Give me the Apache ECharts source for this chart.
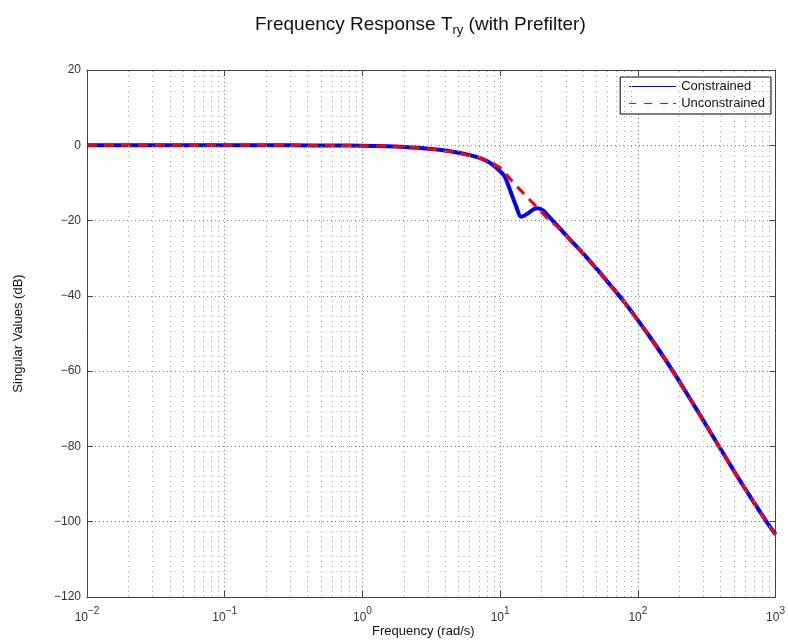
<!DOCTYPE html>
<html>
<head>
<meta charset="utf-8">
<script src="https://cdn.jsdelivr.net/npm/echarts@6/dist/echarts.min.js"></script>
<style>
  html, body { margin: 0; padding: 0; background: #fff; }
  #chart { width: 788px; height: 644px; }
</style>
</head>
<body>
<div id="chart"></div>
<script>
  // frequency points (rad/s) and singular values (dB)
  var freq = [0.01, 0.1, 0.3, 0.6, 1, 1.5, 2, 3, 4, 5, 6, 7, 8, 9, 10, 10.8, 12, 13.1, 14.2, 15.9, 17.5, 18.8, 20.5, 22.2,
    26.2, 32.7, 40.9, 51, 63.7, 79.6, 99.4, 124, 155, 193, 242, 293, 387, 556, 867, 1000]
  var constrainedDb = [0, 0, -0.01, -0.05, -0.12, -0.25, -0.45, -0.9, -1.4, -2.0, -2.6, -3.3, -4.2, -5.4, -6.9, -8.3, -12.6,
    -16.3, -19.0, -18.1, -17.0, -16.7, -17.3, -18.6, -21.5, -25.3, -29.1, -33.1, -37.3, -41.6, -46.3, -51.2, -56.4, -61.8,
    -67.6, -72.6, -79.9, -89.3, -100.2, -103.4]
  var unconstrainedDb = [0, 0, -0.01, -0.05, -0.12, -0.25, -0.45, -0.95, -1.5, -2.1, -2.75, -3.35, -4.0, -4.9, -6.0, -7.3,
    -9.2, -10.8, -12.1, -14.0, -15.5, -16.7, -18.2, -19.5, -21.7, -25.3, -29.1, -33.1, -37.3, -41.6, -46.3, -51.2, -56.4,
    -61.8, -67.6, -72.6, -79.9, -89.3, -100.2, -103.4]
  var decades = [-2, -1, 0, 1, 2, 3]
  var minorSteps = [2, 3, 4, 5, 6, 7, 8, 9]
  var yTicks = {min: -120, max: 20, step: 20}

  var font = 'Liberation Sans, Arial, Helvetica, sans-serif'

  // legend keys: thin solid bar and a dashed bar (47 x 1.2)
  var solidKey = 'path://M0,0H47V1.2H0Z'
  var dashedKey = 'path://M0,0H7V1.2H0Z M15,0H23V1.2H15Z M31,0H39V1.2H31Z M47,0H47V1.2H47Z M44,0H47V1.2H44Z'

  function toPairs(ys) {
    return freq.map(function (f, i) {
      return [f, ys[i]]
    })
  }

  // dotted minor grid lines at 2..9 x 10^n
  var minorLines = []
  decades.slice(0, -1).forEach(function (e) {
    minorSteps.forEach(function (k) {
      minorLines.push({xAxis: +(k * Math.pow(10, e)).toPrecision(3)})
    })
  })

  function minusSign(s) {
    return String(s).replace('-', '\u2212')
  }

  var axisColor = '#444'
  var chart = echarts.init(document.getElementById('chart'))

  var option = {
    animation: false,
    backgroundColor: '#fff',
    textStyle: {fontFamily: font},
    grid: {left: 87, right: 10, top: 70, bottom: 47, containLabel: false},
    graphic: [
      {
        // title
        type: 'text',
        left: 255,
        top: 12,
        style: {
          text: '{m|Frequency Response T}{s|ry}{m| (with Prefilter)}',
          fill: '#111',
          rich: {
            m: {fontSize: 19, fontFamily: font, fill: '#111', verticalAlign: 'top', lineHeight: 22},
            s: {fontSize: 13, fontFamily: font, fill: '#111', verticalAlign: 'bottom', lineHeight: 22, padding: [12, 0, 0, 0]}
          }
        }
      },
      {
        // x axis label
        type: 'text',
        left: 372,
        top: 625,
        style: {text: 'Frequency (rad/s)', fontSize: 13, fontFamily: font, fill: '#111'}
      }
    ],
    legend: {
      right: 17,
      top: 77,
      orient: 'vertical',
      align: 'left',
      backgroundColor: '#fff',
      borderColor: '#000',
      borderWidth: 1,
      borderRadius: 0,
      padding: [3, 6, 4, 9],
      itemGap: 4,
      itemWidth: 47,
      itemHeight: 14,
      symbolKeepAspect: true,
      textStyle: {fontSize: 13, color: '#111', fontFamily: font},
      data: [
        {name: 'Constrained', icon: solidKey, itemStyle: {color: '#0000ff'}},
        {name: 'Unconstrained', icon: dashedKey, itemStyle: {color: '#ff0000'}}
      ]
    },
    xAxis: [
      {
        type: 'log',
        logBase: 10,
        min: 0.01,
        max: 1000,
        axisLine: {onZero: false, lineStyle: {color: axisColor, width: 1}},
        axisTick: {inside: true, length: 6, lineStyle: {color: axisColor}},
        axisLabel: {
          margin: 9,
          color: '#333',
          formatter: function (v) {
            var e = Math.round(Math.log10(v))
            return '{b|10}{s|' + minusSign(e) + '}'
          },
          rich: {
            b: {fontSize: 12, color: '#333', fontFamily: font, verticalAlign: 'bottom', lineHeight: 18},
            s: {fontSize: 10, color: '#333', fontFamily: font, verticalAlign: 'top', lineHeight: 18}
          }
        },
        splitLine: {show: true, lineStyle: {color: '#888', type: [1, 3], width: 1}}
      },
      {
        type: 'log',
        logBase: 10,
        min: 0.01,
        max: 1000,
        position: 'top',
        axisLine: {onZero: false, lineStyle: {color: axisColor, width: 1}},
        axisTick: {inside: true, length: 6, lineStyle: {color: axisColor}},
        axisLabel: {show: false},
        splitLine: {show: false}
      }
    ],
    yAxis: [
      {
        type: 'value',
        min: yTicks.min,
        max: yTicks.max,
        interval: yTicks.step,
        name: 'Singular Values (dB)',
        nameLocation: 'middle',
        nameGap: 62,
        nameTextStyle: {fontSize: 13, color: '#111', fontFamily: font},
        axisLine: {show: true, onZero: false, lineStyle: {color: axisColor, width: 1}},
        axisTick: {show: true, inside: true, length: 6, lineStyle: {color: axisColor}},
        axisLabel: {
          fontSize: 12,
          color: '#333',
          margin: 6,
          formatter: function (v) {
            return minusSign(v)
          }
        },
        splitLine: {show: true, lineStyle: {color: '#888', type: [1, 3], width: 1}}
      },
      {
        type: 'value',
        min: yTicks.min,
        max: yTicks.max,
        interval: yTicks.step,
        position: 'right',
        axisLine: {show: true, onZero: false, lineStyle: {color: axisColor, width: 1}},
        axisTick: {show: true, inside: true, length: 6, lineStyle: {color: axisColor}},
        axisLabel: {show: false},
        splitLine: {show: false}
      }
    ],
    series: [
      {
        // helper series, only carries the minor grid
        name: 'grid',
        type: 'line',
        data: [],
        z: 1,
        silent: true,
        markLine: {
          silent: true,
          symbol: 'none',
          label: {show: false},
          lineStyle: {color: '#aaa', type: [1, 4], width: 1},
          animation: false,
          data: minorLines
        }
      },
      {
        name: 'Constrained',
        type: 'line',
        data: toPairs(constrainedDb),
        showSymbol: false,
        symbol: 'none',
        smooth: 0.3,
        z: 3,
        lineStyle: {color: '#0000ff', width: 4},
        itemStyle: {color: '#0000ff'}
      },
      {
        name: 'Unconstrained',
        type: 'line',
        data: toPairs(unconstrainedDb),
        showSymbol: false,
        symbol: 'none',
        smooth: 0.3,
        z: 4,
        lineStyle: {color: '#ff0000', width: 3, type: [10, 7]},
        itemStyle: {color: '#ff0000'}
      }
    ]
  }

  chart.setOption(option)
</script>
</body>
</html>
